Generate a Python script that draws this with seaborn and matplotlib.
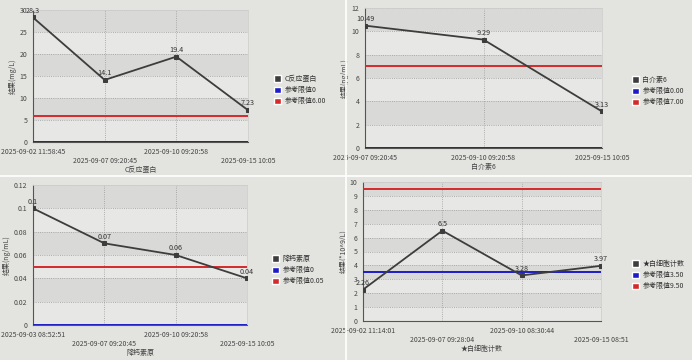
import matplotlib
matplotlib.use("Agg")
import matplotlib.pyplot as plt
from matplotlib.patches import Patch
from matplotlib.lines import Line2D
import numpy as np
import pandas as pd
import seaborn as sns

sns.set_style("white")
plt.rcParams["font.family"] = ["Noto Sans CJK SC", "DejaVu Sans"]

# --- data ---
crp_dates = ["2025-09-02 11:58:45", "2025-09-07 09:20:45", "2025-09-10 09:20:58", "2025-09-15 10:05"]
crp_values = [28.3, 14.1, 19.4, 7.23]
crp_labels = ["28.3", "14.1", "19.4", "7.23"]
crp_refs = [0, 6.00]
crp_ref_names = ["参考限值0", "参考限值6.00"]

il6_dates = ["2025-09-07 09:20:45", "2025-09-10 09:20:58", "2025-09-15 10:05"]
il6_values = [10.49, 9.29, 3.13]
il6_labels = ["10.49", "9.29", "3.13"]
il6_refs = [0.00, 7.00]
il6_ref_names = ["参考限值0.00", "参考限值7.00"]

pct_dates = ["2025-09-03 08:52:51", "2025-09-07 09:20:45", "2025-09-10 09:20:58", "2025-09-15 10:05"]
pct_values = [0.1, 0.07, 0.06, 0.04]
pct_labels = ["0.1", "0.07", "0.06", "0.04"]
pct_refs = [0, 0.05]
pct_ref_names = ["参考限值0", "参考限值0.05"]

wbc_dates = ["2025-09-02 11:14:01", "2025-09-07 09:28:04", "2025-09-10 08:30:44", "2025-09-15 08:51"]
wbc_values = [2.26, 6.5, 3.28, 3.97]
wbc_labels = ["2.26", "6.5", "3.28", "3.97"]
wbc_refs = [3.50, 9.50]
wbc_ref_names = ["参考限值3.50", "参考限值9.50"]

W, H = 692, 360
fig = plt.figure(figsize=(W / 100, H / 100), dpi=100)
fig.patch.set_facecolor("#e3e3df")

LINE_C = "#3d3d3d"
BLUE = "#1c1cc8"
RED = "#d42a2a"
FS = 5.0


def add_ax(left, top, right, bottom):
    return fig.add_axes([left / W, 1 - bottom / H, (right - left) / W, (bottom - top) / H])


def draw_panel(ax, dates, values, labels, refs, ref_names, name, ylabel,
               ymax, ystep, stagger, leg_xy, yfmt):
    n = len(dates)
    df = pd.DataFrame({"pos": np.arange(n), "value": values})
    ax.set_xlim(0, n - 1)
    ax.set_ylim(0, ymax)
    yt = np.arange(0, ymax + ystep / 2, ystep)
    # alternating bands
    for i in range(len(yt) - 1):
        c = "#d9d9d7" if i % 2 else "#e7e7e5"
        ax.axhspan(yt[i], yt[i + 1], color=c, lw=0, zorder=0)
    ax.set_facecolor("#e7e7e5")
    ax.grid(True, ls=":", color="#9a9a9a", lw=0.6)
    ax.set_axisbelow(True)

    ax.axhline(refs[0], color=BLUE, lw=1.4, zorder=3)
    ax.axhline(refs[1], color=RED, lw=1.4, zorder=3)
    sns.lineplot(data=df, x="pos", y="value", ax=ax, color=LINE_C, lw=1.3,
                 marker="s", markersize=2.5, markeredgecolor=LINE_C, zorder=4)
    for x, v, t in zip(df["pos"], values, labels):
        ax.annotate(t, (x, v), xytext=(0, 2), textcoords="offset points",
                    ha="center", va="bottom", fontsize=FS + 0.2, color="#333333",
                    zorder=5, annotation_clip=False)

    ax.set_yticks(yt)
    ax.set_yticklabels([yfmt(v) for v in yt], fontsize=FS, color="#444444")
    ax.set_xticks(df["pos"])
    xt = [("\n" + d) if (stagger and i % 2) else d for i, d in enumerate(dates)]
    ax.set_xticklabels(xt, fontsize=FS, color="#444444")
    ax.tick_params(length=2.5, width=0.6, color="#555555", pad=1.5)
    ax.set_xlabel(name, fontsize=FS, color="#444444", labelpad=1)
    ax.set_ylabel(ylabel, fontsize=FS, color="#444444", labelpad=2)
    for s in ["top", "right"]:
        ax.spines[s].set_color("#cfcfcf")
        ax.spines[s].set_linewidth(0.6)
    for s in ["left", "bottom"]:
        ax.spines[s].set_color("#555555")
        ax.spines[s].set_linewidth(0.8)

    handles = [Patch(facecolor=LINE_C), Patch(facecolor=BLUE), Patch(facecolor=RED)]
    fig.legend(handles, [name] + ref_names, loc="center left",
               bbox_to_anchor=(leg_xy[0] / W, 1 - leg_xy[1] / H),
               frameon=False, fontsize=FS, handlelength=1.0, handleheight=1.0,
               handletextpad=0.5, labelspacing=0.45, labelcolor="#333333",
               borderaxespad=0, borderpad=0)


def fmt_int(v):
    return f"{v:g}"


def fmt_pct(v):
    if v == 0:
        return "0"
    s = f"{v:.2f}"
    return s[:-1] if s.endswith("0") else s


ax1 = add_ax(33, 10, 248, 142)
draw_panel(ax1, crp_dates, crp_values, crp_labels, crp_refs, crp_ref_names,
           "C反应蛋白", "结果(mg/L)", 30, 5, True, (274, 90), fmt_int)

ax2 = add_ax(365, 8, 602, 148)
draw_panel(ax2, il6_dates, il6_values, il6_labels, il6_refs, il6_ref_names,
           "白介素6", "结果(pg/mL)", 12, 2, False, (632, 91), fmt_int)

ax3 = add_ax(33, 185, 247, 325)
draw_panel(ax3, pct_dates, pct_values, pct_labels, pct_refs, pct_ref_names,
           "降钙素原", "结果(ng/mL)", 0.12, 0.02, True, (272, 270), fmt_pct)

ax4 = add_ax(363, 182, 601, 321)
draw_panel(ax4, wbc_dates, wbc_values, wbc_labels, wbc_refs, wbc_ref_names,
           "★白细胞计数", "结果(*10^9/L)", 10, 1, True, (632, 275), fmt_int)

# panel separators
fig.add_artist(Line2D([346 / W, 346 / W], [0, 1], color="white", lw=1.2))
fig.add_artist(Line2D([0, 1], [1 - 176 / H, 1 - 176 / H], color="white", lw=1.2))

fig.savefig("out.png", dpi=100, facecolor=fig.get_facecolor())
